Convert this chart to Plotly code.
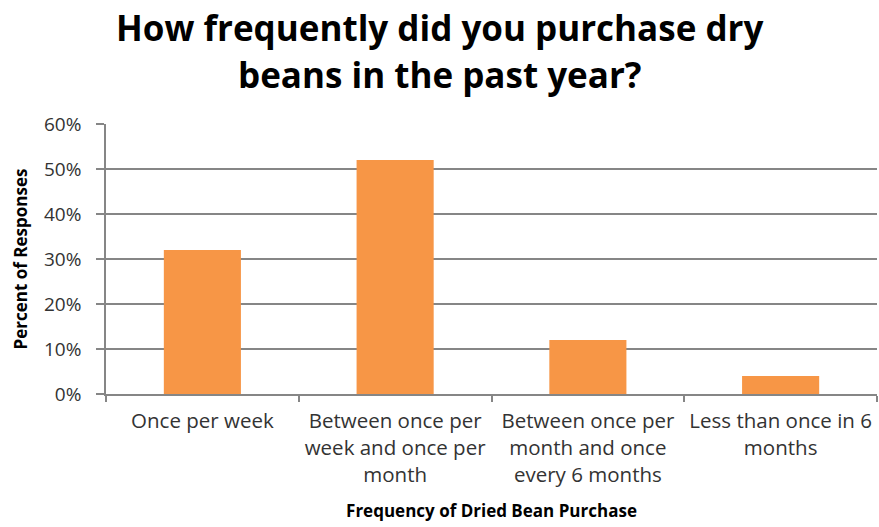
import plotly.graph_objects as go

# Survey results: purchase frequency of dry beans
categories = [
    "Once per week",
    "Between once per<br>week and once per<br>month",
    "Between once per<br>month and once<br>every 6 months",
    "Less than once in 6<br>months",
]
percent_responses = [0.32, 0.52, 0.12, 0.04]

y_ticks = [0, 0.1, 0.2, 0.3, 0.4, 0.5, 0.6]
y_tick_labels = ["0%", "10%", "20%", "30%", "40%", "50%", "60%"]

title_lines = ["How frequently did you purchase dry", "beans in the past year?"]

FONT = "Open Sans, sans-serif"
GRID = "#868686"
BAR = "#F79646"
TEXT = "#333333"

W, H = 879, 527
M_L, M_R, M_T, M_B = 106, 2, 124, 133
plot_h = H - M_T - M_B


def paper_y(px_from_top):
    """Convert a page pixel row to a paper y coordinate."""
    return (H - M_B - px_from_top) / plot_h


fig = go.Figure(
    go.Bar(
        x=categories,
        y=percent_responses,
        marker=dict(color=BAR, line=dict(width=0)),
        hoverinfo="x+y",
    )
)

# Two-line chart heading drawn as separate annotations for exact line spacing
for i, line in enumerate(title_lines):
    fig.add_annotation(
        text=f"<b>{line}</b>",
        xref="paper",
        yref="paper",
        x=(W / 2 - M_L) / (W - M_L - M_R),
        y=paper_y(27 + i * 47),
        xanchor="center",
        yanchor="middle",
        showarrow=False,
        font=dict(family=FONT, size=35, color="black"),
    )

fig.update_layout(
    width=W,
    height=H,
    margin=dict(l=M_L, r=M_R, t=M_T, b=M_B, autoexpand=False),
    paper_bgcolor="white",
    plot_bgcolor="white",
    bargap=0.6,
    showlegend=False,
    font=dict(family=FONT, color=TEXT, size=18),
)

fig.update_xaxes(
    automargin=False,
    tickangle=0,
    showline=True,
    linecolor=GRID,
    linewidth=1.5,
    ticks="outside",
    tickson="boundaries",
    ticklen=6,
    tickcolor=GRID,
    tickwidth=1.5,
    showgrid=False,
    ticklabelstandoff=8,
    tickfont=dict(family=FONT, size=20.5, color=TEXT),
    title=dict(
        text="<b>Frequency of Dried Bean Purchase</b>",
        font=dict(family=FONT, size=17, color="black"),
        standoff=18,
    ),
)

fig.update_yaxes(
    automargin=False,
    range=[0, 0.6],
    tickvals=y_ticks,
    ticktext=y_tick_labels,
    showline=True,
    linecolor=GRID,
    linewidth=1.5,
    ticks="outside",
    ticklen=8,
    tickcolor=GRID,
    tickwidth=1.5,
    showgrid=True,
    gridcolor=GRID,
    gridwidth=1.5,
    zeroline=False,
    ticklabelstandoff=11,
    tickfont=dict(family=FONT, size=19, color=TEXT),
    title=dict(
        text="<b>Percent of Responses</b>",
        font=dict(family=FONT, size=17, color="black"),
        standoff=12,
    ),
)

fig.write_html("out.html")
